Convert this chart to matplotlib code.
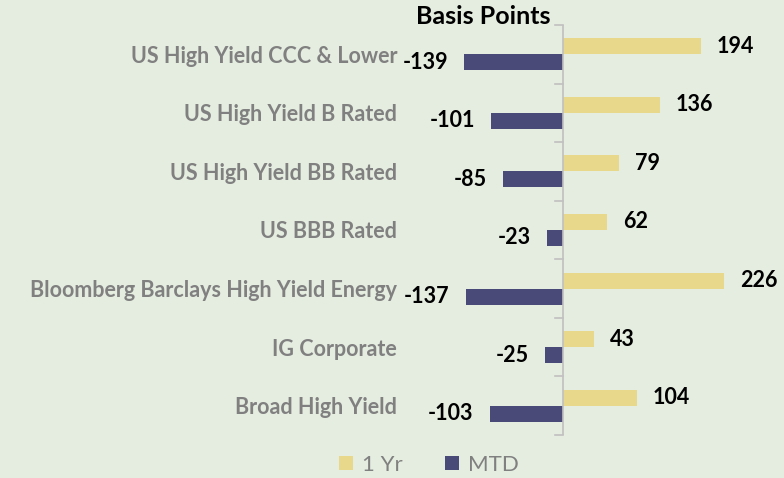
import numpy as np
import matplotlib.pyplot as plt

categorias = ['Broad High Yield', 'IG Corporate', 'Bloomberg Barclays High Yield Energy',
              'US BBB Rated', 'US High Yield BB Rated', 'US High Yield B Rated',
              'US High Yield CCC & Lower']
un_anio = [104, 43, 226, 62, 79, 136, 194]
mtd = [-103, -25, -137, -23, -85, -101, -139]

fondo = '#e4ede0'
amarillo = '#e8d88c'
azul = '#4a4a78'
gris = '#808080'
plt.rcParams['font.family'] = ['Lato', 'DejaVu Sans']

fig = plt.figure(figsize=(7.84, 4.78), dpi=100, facecolor=fondo)
ax = fig.add_axes([0.5367, 0.0900, 0.4534, 0.8577])
ax.set_facecolor(fondo)

y = np.arange(len(categorias))
alto = 0.273
ax.barh(y + alto / 2, un_anio, height=alto, color=amarillo, label='1 Yr')
ax.barh(y - alto / 2, mtd, height=alto, color=azul, label='MTD')

for yi, v in zip(y, un_anio):
    ax.annotate(str(v), (v, yi + alto / 2), xytext=(16, 0), textcoords='offset pixels',
                ha='left', va='center', fontsize=15.5, fontweight='bold', color='black')
for yi, v in zip(y, mtd):
    ax.annotate(str(v), (v, yi - alto / 2), xytext=(-16, 0), textcoords='offset pixels',
                ha='right', va='center', fontsize=15.5, fontweight='bold', color='black')

ax.set_xlim(-200, 300)
ax.set_ylim(-0.5, len(categorias) - 0.5)
for s in ['top', 'right', 'bottom', 'left']:
    ax.spines[s].set_visible(False)
ax.axvline(0, color='#c0c0c0', lw=1.2)
ax.set_xticks([])
ax.set_yticks(y)
ax.set_yticklabels(categorias, fontsize=15.5, fontweight='bold', color=gris)
ax.tick_params(axis='y', which='major', length=0, pad=17)
for b in np.arange(-0.5, len(categorias), 1.0):
    ax.plot([-11, 0], [b, b], color='#c0c0c0', lw=1.2, clip_on=False)

fig.text(483 / 784, 1 - 16 / 478, 'Basis Points', ha='center', va='center',
         fontsize=18, fontweight='bold', color='black')

fig.legend(loc='center', bbox_to_anchor=(429 / 784, 1 - 465 / 478), ncol=2, frameon=False,
           fontsize=16, labelcolor=gris, handlelength=0.6, handleheight=0.6,
           columnspacing=1.94, handletextpad=0.4)

plt.savefig('out.png', dpi=100, facecolor=fondo)
